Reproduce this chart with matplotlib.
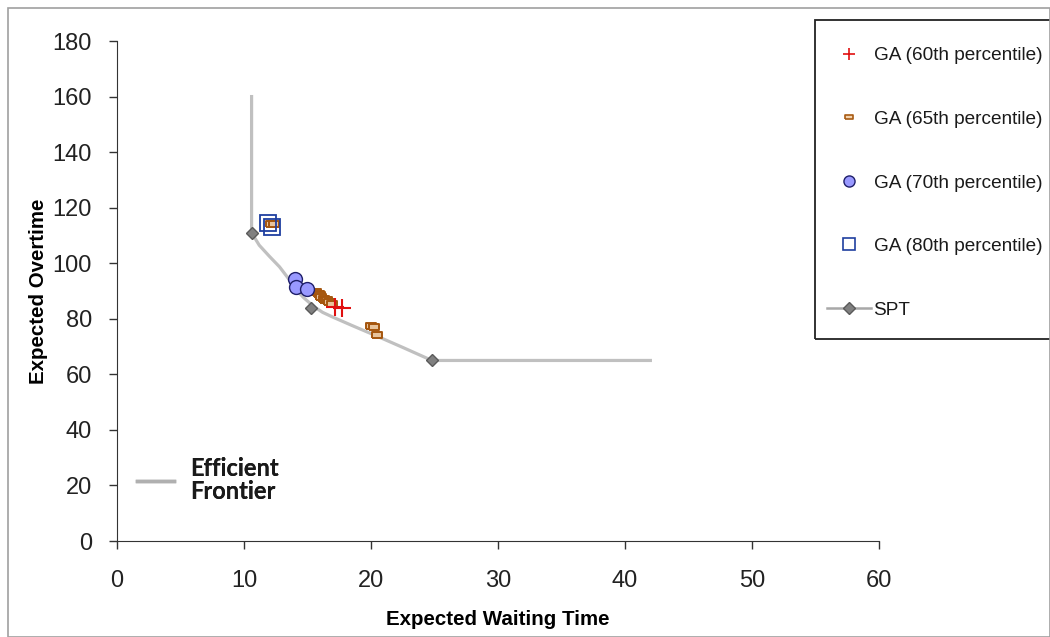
import matplotlib
matplotlib.use("Agg")
import matplotlib.pyplot as plt
from matplotlib.lines import Line2D
from matplotlib.patches import Rectangle

plt.rcParams['font.family'] = ['Liberation Sans', 'DejaVu Sans']

# efficient frontier (gray curve)
front_x = [10.6, 10.6, 11.2, 12.0, 12.8, 13.5, 14.15, 14.7, 15.2, 15.6, 16.2, 17.0, 18.5, 20.5, 22.5, 24.8, 42.0]
front_y = [160, 111, 106.5, 102.5, 98.7, 94.5, 90.3, 87.6, 85.6, 84.1, 82.3, 80.6, 77.6, 73.7, 69.7, 65, 65]

# SPT points
spt_x = [10.6, 15.3, 24.8]
spt_y = [111, 83.9, 65]

# GA solutions
ga60_x = [17.2, 17.7]
ga60_y = [84.3, 83.8]

ga65_x = [12.1, 12.4, 15.7, 15.9, 16.0, 16.1, 16.3, 16.4, 16.5, 16.7, 16.9, 20.0, 20.2, 20.5]
ga65_y = [114.3, 114.2, 89.5, 88.8, 88.6, 88.0, 87.3, 86.9, 86.6, 86.0, 85.5, 77.5, 77.2, 74.2]

ga70_x = [14.0, 14.1, 15.0]
ga70_y = [94.3, 91.6, 90.7]

ga80_x = [11.9, 12.2]
ga80_y = [114.5, 113.0]

fig = plt.figure(figsize=(10.5, 6.37), dpi=100)
ax = fig.add_axes([0.1114, 0.1507, 0.7257, 0.7849])

ax.plot(front_x, front_y, color='#c0c0c0', lw=2.3, zorder=1)
ax.plot(spt_x, spt_y, ls='none', marker='D', ms=6, mfc='#808080', mec='#5a5a5a', zorder=3)

rect = [(-1, -0.5), (1, -0.5), (1, 0.5), (-1, 0.5), (-1, -0.5)]
ax.plot(ga65_x, ga65_y, ls='none', marker=rect, ms=7.5, mfc='#e8c49c', mec='#a5560e', mew=1.4, zorder=4)
ax.plot(ga60_x, ga60_y, ls='none', marker='+', ms=13, mec='#e01010', mew=1.5, zorder=5)
ax.plot(ga70_x, ga70_y, ls='none', marker='o', ms=10, mfc='#9999ff', mec='#1f1f6a', mew=1.0, zorder=5)
ax.plot(ga80_x, ga80_y, ls='none', marker='s', ms=11, mfc='none', mec='#1f3fa0', mew=1.3, zorder=6)

ax.set_xlim(0, 60)
ax.set_ylim(0, 180)
ax.set_xticks(range(0, 61, 10))
ax.set_yticks(range(0, 181, 20))
ax.spines['top'].set_visible(False)
ax.spines['right'].set_visible(False)
for s in ('left', 'bottom'):
    ax.spines[s].set_color('#333333')
ax.tick_params(direction='out', length=6, width=1, labelsize=17, color='#333333',
               labelcolor='#222222')
ax.tick_params(axis='x', pad=15)
ax.tick_params(axis='y', pad=12)
ax.set_xlabel('Expected Waiting Time', fontsize=14.8, fontweight='bold', labelpad=13)
ax.set_ylabel('Expected Overtime', fontsize=14.8, fontweight='bold', labelpad=3)

handles = [
    Line2D([], [], ls='none', marker='+', ms=9, mec='#e01010', mew=1.2),
    Line2D([], [], ls='none', marker=rect, ms=6, mfc='#f3d2ad', mec='#a85a12', mew=1.2),
    Line2D([], [], ls='none', marker='o', ms=8, mfc='#9999ff', mec='#1f1f6a'),
    Line2D([], [], ls='none', marker='s', ms=9, mfc='none', mec='#1f3fa0', mew=1.2),
    Line2D([], [], color='#a8a8a8', lw=1.8, marker='D', ms=6, mfc='#808080', mec='#5a5a5a'),
]
labels = ['GA (60th percentile)', 'GA (65th percentile)', 'GA (70th percentile)',
          'GA (80th percentile)', 'SPT']
leg = fig.legend(handles, labels, loc='upper left', bbox_to_anchor=(0.7876, 0.926),
                 fontsize=13.7, frameon=False, labelspacing=2.43, borderpad=0,
                 handlelength=2.3, handletextpad=0.15, borderaxespad=0)
for t in leg.get_texts():
    t.set_color('#1a1a1a')

fig.patches.append(Rectangle((815 / 1050, 1 - 339 / 637), 0.3, 319 / 637,
                             transform=fig.transFigure, fill=False,
                             edgecolor='#222222', lw=1.3))

leg2 = ax.legend([Line2D([], [], color='#b0b0b0', lw=2.5)], ['Efficient\nFrontier'],
                 loc='center left', bbox_to_anchor=(0.026, 0.122), frameon=False,
                 handlelength=1.57, handletextpad=0.68, borderpad=0, borderaxespad=0,
                 prop={'family': 'Lato', 'weight': 'bold', 'size': 17})
for t in leg2.get_texts():
    t.set_linespacing(1.0)
    t.set_color('#1a1a1a')
ax.add_artist(leg2)

fig.patches.append(Rectangle((0.008, 0.0), 0.992, 0.988, transform=fig.transFigure,
                             fill=False, edgecolor='#a0a0a0', lw=1.2))

fig.savefig('out.png', dpi=100)
